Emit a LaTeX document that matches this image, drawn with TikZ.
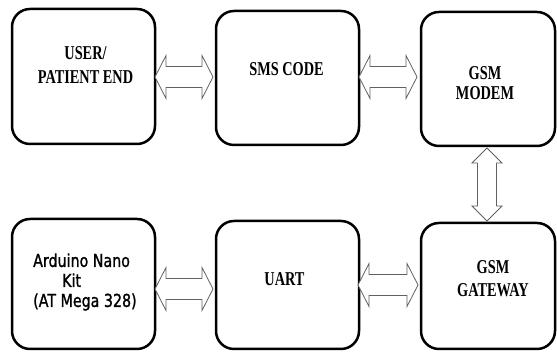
\documentclass[tikz,border=0pt]{standalone}
\usepackage{fontspec}
\usetikzlibrary{calc}
\newfontfamily\bt[FakeStretch=0.73]{Liberation Serif}
\newfontfamily\st[FakeStretch=0.80,FakeBold=1.2]{DejaVu Sans}
\tikzset{
  blk/.style={draw, line width=2.5pt, rounded corners=18pt, inner sep=0pt, outer sep=0pt},
  lbl/.style={inner sep=0pt, align=center},
  arr/.style={draw=black!62, line width=0.8pt, fill=white, line join=miter},
}
\newcommand\hdarrow[2]{%
  \draw[arr] (#1) -- ++(11,21.5) -- ++(0,-11) -- ($(#2)+(-11,10.5)$) -- ++(0,11) -- (#2)
    -- ++(-11,-21.5) -- ++(0,11) -- ($(#1)+(11,-10.5)$) -- ++(0,-11) -- cycle;}
\newcommand\vdarrow[2]{%
  \draw[arr] (#1) -- ++(15,-15) -- ++(-5.5,0) -- ($(#2)+(9.5,15)$) -- ++(5.5,0) -- (#2)
    -- ++(-15,15) -- ++(5.5,0) -- ($(#1)+(-9.5,-15)$) -- ++(-5.5,0) -- cycle;}
\begin{document}
\begin{tikzpicture}[x=1pt,y=1pt]
\useasboundingbox (0,0) rectangle (557,352);
% boxes
\node[blk, minimum width=143pt, minimum height=135pt] (b1) at (83.5,275.5) {};
\node[blk, minimum width=143pt, minimum height=134pt] (b2) at (287.5,274) {};
\node[blk, minimum width=134pt, minimum height=134pt] (b3) at (488,273) {};
\node[blk, minimum width=143pt, minimum height=130pt] (b4) at (83.5,68) {};
\node[blk, minimum width=143pt, minimum height=128pt] (b5) at (287.5,67) {};
\node[blk, minimum width=134pt, minimum height=126pt] (b6) at (488,66) {};
% labels
\node[lbl, font={\bt\bfseries\fontsize{19.6}{24}\selectfont}] (t1) at (85.5,287) {USER/\\PATIENT END};
\node[lbl, font={\bt\bfseries\fontsize{19.6}{24}\selectfont}] (t2) at (286.5,283) {SMS CODE};
\node[lbl, font={\bt\bfseries\fontsize{19.6}{20}\selectfont}] (t3) at (485,269) {GSM\\MODEM};
\node[inner sep=0pt, align=left, anchor=west, font={\st\fontsize{17.8}{20}\selectfont}] (t4) at (33,70) {Arduino Nano\\\hspace*{29pt}Kit\\(AT Mega 328)};
\node[lbl, font={\bt\bfseries\fontsize{19.6}{24}\selectfont}] (t5) at (284.5,73) {UART};
\node[lbl, font={\bt\bfseries\fontsize{19.6}{23}\selectfont}] (t6) at (493,73.5) {GSM\\GATEWAY};
% arrow end points
\coordinate (a1) at (b1.east |- 0,275);
\coordinate (a2) at ($(b2.west |- 0,275)+(-3,0)$);
\coordinate (a3) at (b2.east |- 0,275);
\coordinate (a4) at ($(b3.west |- 0,275)+(-4,0)$);
\coordinate (v1) at ($(b3.south)+(-1,-2)$);
\coordinate (v2) at ($(b6.north)+(-1,2)$);
\coordinate (c1) at (b4.east |- 0,63);
\coordinate (c2) at ($(b5.west |- 0,63)+(-3,0)$);
\coordinate (c3) at ($(b5.east |- 0,67)+(-1,0)$);
\coordinate (c4) at ($(b6.west |- 0,67)+(-3,0)$);
\hdarrow{a1}{a2}
\hdarrow{a3}{a4}
\vdarrow{v1}{v2}
\hdarrow{c1}{c2}
\hdarrow{c3}{c4}
\end{tikzpicture}
\end{document}
